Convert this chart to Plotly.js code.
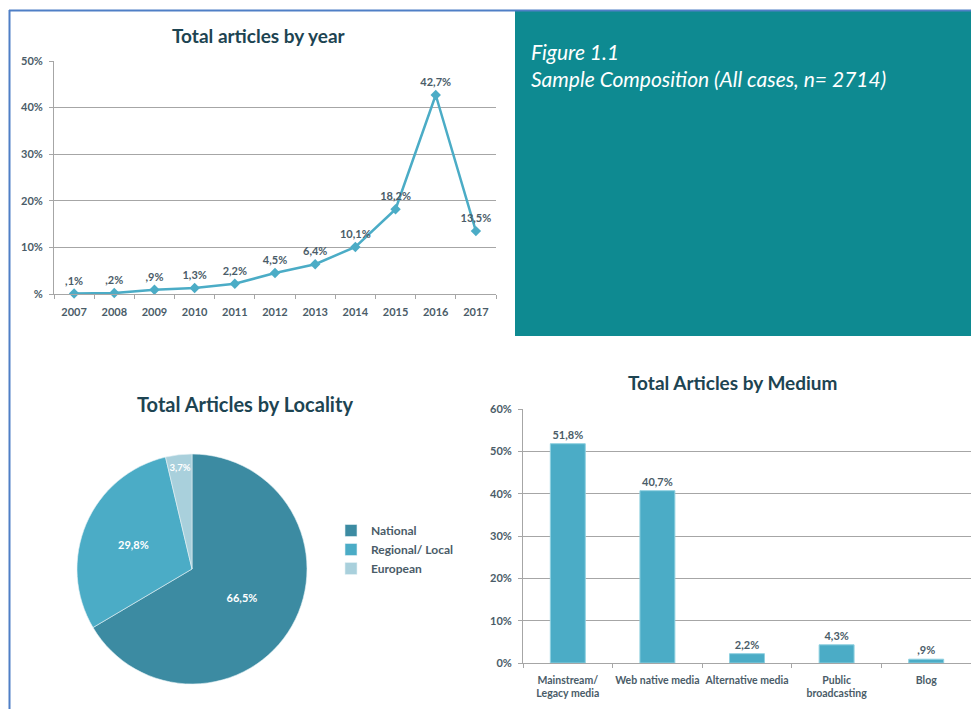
<!DOCTYPE html>
<html>
<head>
<meta charset="utf-8">
<script src="https://cdn.plot.ly/plotly-3.0.1.min.js"></script>
<style>
  html, body { margin: 0; padding: 0; background: #fff; }
  #chart { width: 971px; height: 709px; }
</style>
</head>
<body>
<div id="chart"></div>
<script>
// data
const years = ['2007', '2008', '2009', '2010', '2011', '2012', '2013', '2014', '2015', '2016', '2017'];
const yearShare = [0.1, 0.2, 0.9, 1.3, 2.2, 4.5, 6.4, 10.1, 18.2, 42.7, 13.5];
const yearTicks = [0, 10, 20, 30, 40, 50];
const yearTickText = ['%', '10%', '20%', '30%', '40%', '50%'];

const localityLabels = ['National', 'Regional/ Local', 'European'];
const localityShare = [66.5, 29.8, 3.7];

const mediumLabels = ['Mainstream/<br>Legacy media', 'Web native media', 'Alternative media', 'Public<br>broadcasting', 'Blog'];
const mediumShare = [51.8, 40.7, 2.2, 4.3, 0.9];
const mediumTicks = [0, 10, 20, 30, 40, 50, 60];
const mediumTickText = ['0%', '10%', '20%', '30%', '40%', '50%', '60%'];

// 51.8 -> "51,8%", 0.9 -> ",9%"
const fmt = v => v.toFixed(1).replace('.', ',').replace(/^0/, '') + '%';

const W = 971, H = 709;
const px = x => x / W;
const py = y => 1 - y / H;

const FONT = 'Lato, "Open Sans", sans-serif';
const LABEL_COLOR = '#4a5c68';
const TICK = { family: FONT, size: 11, color: LABEL_COLOR, weight: 'bold' };
const TITLE_COLOR = '#1d4452';
const BLUE = '#4bacc6';
const GRID = '#a6a6a6';

const lineTrace = {
  x: years,
  y: yearShare,
  type: 'scatter',
  mode: 'lines+markers+text',
  text: yearShare.map(fmt),
  textposition: 'top center',
  textfont: { family: FONT, size: 11, color: LABEL_COLOR, weight: 'bold' },
  line: { color: BLUE, width: 2.5 },
  marker: { symbol: 'diamond', size: 8, color: BLUE },
  xaxis: 'x',
  yaxis: 'y',
  showlegend: false,
  cliponaxis: false,
  hoverinfo: 'x+y'
};

const pieTrace = {
  type: 'pie',
  labels: localityLabels,
  values: localityShare,
  text: localityShare.map(fmt),
  textinfo: 'text',
  textposition: 'inside',
  insidetextorientation: 'horizontal',
  textfont: { family: FONT, size: 11, color: '#ffffff', weight: 'bold' },
  sort: false,
  direction: 'clockwise',
  rotation: 0,
  marker: {
    colors: ['#3c8ba2', '#4bacc6', '#a9d0dc'],
    line: { color: '#e6f2f5', width: 0.6 }
  },
  domain: { x: [px(77), px(307)], y: [py(684), py(454)] },
  hoverinfo: 'label+percent'
};

const barTrace = {
  x: mediumLabels,
  y: mediumShare,
  type: 'bar',
  text: mediumShare.map(fmt),
  textposition: 'outside',
  textfont: { family: FONT, size: 11, color: LABEL_COLOR, weight: 'bold' },
  marker: { color: BLUE, line: { color: '#8fd0e0', width: 1 } },
  xaxis: 'x2',
  yaxis: 'y2',
  showlegend: false,
  cliponaxis: false,
  hoverinfo: 'x+y'
};

const title = (text, x, y, size) => ({
  text: '<b>' + text + '</b>', xref: 'paper', yref: 'paper', x: px(x), y: py(y),
  xanchor: 'center', yanchor: 'middle', showarrow: false,
  font: { family: FONT, size: size, color: TITLE_COLOR }
});

const layout = {
  width: W,
  height: H,
  margin: { l: 0, r: 0, t: 0, b: 0 },
  paper_bgcolor: '#ffffff',
  plot_bgcolor: 'rgba(0,0,0,0)',
  font: { family: FONT, color: '#404040' },
  showlegend: true,
  legend: {
    x: px(331),
    y: py(516),
    xanchor: 'left',
    yanchor: 'top',
    font: { family: FONT, size: 12, color: LABEL_COLOR, weight: 'bold' },
    bgcolor: 'rgba(0,0,0,0)',
    itemwidth: 30
  },
  xaxis: {
    domain: [px(54), px(496)],
    anchor: 'y',
    type: 'category',
    range: [-0.5, 10.5],
    showline: true,
    linecolor: GRID,
    linewidth: 1,
    ticks: 'outside',
    tickson: 'boundaries',
    ticklen: 4,
    tickcolor: GRID,
    ticklabelstandoff: 8,
    showgrid: false,
    tickfont: TICK,
    fixedrange: true
  },
  yaxis: {
    domain: [py(294), py(61)],
    anchor: 'x',
    range: [0, 50],
    tickvals: yearTicks,
    ticktext: yearTickText,
    showline: true,
    linecolor: GRID,
    ticks: 'outside',
    ticklen: 4,
    tickcolor: GRID,
    ticklabelstandoff: 4,
    gridcolor: GRID,
    gridwidth: 1,
    zeroline: false,
    tickfont: TICK,
    fixedrange: true
  },
  xaxis2: {
    domain: [px(523), 1],
    anchor: 'y2',
    type: 'category',
    range: [-0.5, 4.5],
    showline: true,
    linecolor: GRID,
    ticks: 'outside',
    tickson: 'boundaries',
    ticklen: 4,
    tickcolor: GRID,
    ticklabelstandoff: 7,
    showgrid: false,
    tickangle: 0,
    tickfont: { family: FONT, size: 10.5, color: LABEL_COLOR, weight: 'bold' },
    fixedrange: true
  },
  yaxis2: {
    domain: [py(663), py(409)],
    anchor: 'x2',
    range: [0, 60],
    tickvals: mediumTicks,
    ticktext: mediumTickText,
    showline: true,
    linecolor: GRID,
    ticks: 'outside',
    ticklen: 4,
    tickcolor: GRID,
    ticklabelstandoff: 4,
    gridcolor: GRID,
    zeroline: false,
    tickfont: TICK,
    fixedrange: true
  },
  bargap: 0.61,
  shapes: [
    // teal caption box
    { type: 'rect', xref: 'paper', yref: 'paper', x0: px(515), x1: 1, y0: py(336), y1: py(11),
      fillcolor: '#0e8a91', line: { width: 0 }, layer: 'below' },
    // blue frame (top and left)
    { type: 'line', xref: 'paper', yref: 'paper', x0: px(9), x1: 1, y0: py(10.5), y1: py(10.5),
      line: { color: '#4f7fc6', width: 2 } },
    { type: 'line', xref: 'paper', yref: 'paper', x0: px(9.5), x1: px(9.5), y0: 0, y1: py(10),
      line: { color: '#4f7fc6', width: 2 } }
  ],
  annotations: [
    title('Total articles by year', 259, 35, 19),
    title('Total Articles by Locality', 245, 404, 20),
    title('Total Articles by Medium', 732, 382, 19),
    { text: '<i>Figure 1.1<br>Sample Composition (All cases, n= 2714)</i>', xref: 'paper', yref: 'paper',
      x: px(529), y: py(37), xanchor: 'left', yanchor: 'top', align: 'left',
      showarrow: false, font: { family: FONT, size: 21, color: '#ffffff' } }
  ]
};

Plotly.newPlot('chart', [lineTrace, pieTrace, barTrace], layout, { displayModeBar: false, staticPlot: true });
</script>
</body>
</html>
